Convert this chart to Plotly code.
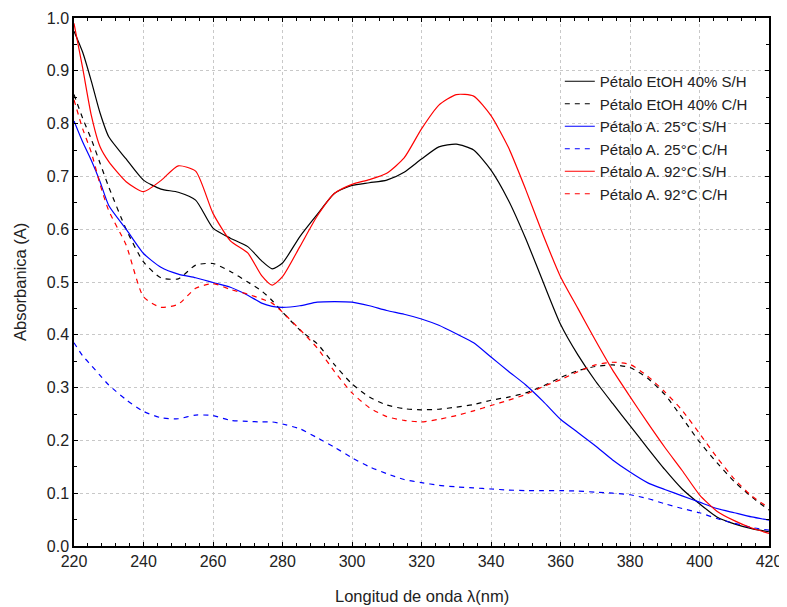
import plotly.graph_objects as go

wavelength = [220, 222.5, 225, 227.5, 230, 235, 240, 245, 250, 255, 260, 265, 270, 274, 277, 280,
              285, 290, 295, 300, 305, 310, 315, 320, 325, 330, 335, 340, 345, 350, 355, 360,
              365, 370, 375, 380, 385, 390, 395, 400, 405, 410, 415, 420]

etoh_sh = [0.975, 0.935, 0.88, 0.82, 0.775, 0.733, 0.693, 0.676, 0.670, 0.655, 0.602, 0.583, 0.567,
           0.54, 0.525, 0.536, 0.586, 0.628, 0.668, 0.683, 0.688, 0.693, 0.708, 0.733, 0.756, 0.761,
           0.750, 0.712, 0.655, 0.582, 0.50, 0.42, 0.362, 0.313, 0.270, 0.228, 0.186, 0.145, 0.108,
           0.08, 0.055, 0.042, 0.033, 0.027]

etoh_ch = [0.855, 0.81, 0.77, 0.725, 0.68, 0.60, 0.538, 0.508, 0.506, 0.532, 0.535, 0.52, 0.50,
           0.483, 0.465, 0.443, 0.409, 0.383, 0.343, 0.307, 0.282, 0.267, 0.26, 0.258, 0.259, 0.263,
           0.268, 0.276, 0.282, 0.29, 0.303, 0.319, 0.332, 0.34, 0.343, 0.338, 0.318, 0.287, 0.243,
           0.197, 0.158, 0.122, 0.093, 0.068]

a25_sh = [0.805, 0.765, 0.73, 0.69, 0.645, 0.60, 0.554, 0.528, 0.515, 0.508, 0.499, 0.49, 0.475,
          0.46, 0.454, 0.452, 0.455, 0.462, 0.463, 0.462, 0.455, 0.446, 0.439, 0.43, 0.418, 0.402,
          0.385, 0.358, 0.331, 0.305, 0.274, 0.24, 0.215, 0.19, 0.163, 0.14, 0.12, 0.107, 0.095,
          0.083, 0.071, 0.063, 0.055, 0.049]

a25_ch = [0.385, 0.36, 0.342, 0.323, 0.305, 0.277, 0.255, 0.243, 0.241, 0.248, 0.247, 0.238, 0.236,
          0.235, 0.235, 0.231, 0.222, 0.205, 0.187, 0.167, 0.15, 0.137, 0.126, 0.12, 0.115, 0.112,
          0.11, 0.108, 0.106, 0.105, 0.105, 0.105, 0.104, 0.102, 0.1, 0.097, 0.09, 0.08, 0.071,
          0.063, 0.052, 0.043, 0.035, 0.03]

a92_sh = [0.99, 0.905, 0.815, 0.756, 0.728, 0.69, 0.671, 0.692, 0.72, 0.71, 0.63, 0.578, 0.555,
          0.512, 0.494, 0.51, 0.567, 0.625, 0.668, 0.685, 0.694, 0.706, 0.735, 0.79, 0.835, 0.855,
          0.852, 0.815, 0.755, 0.675, 0.589, 0.51, 0.45, 0.39, 0.333, 0.283, 0.234, 0.187, 0.143,
          0.097, 0.066, 0.048, 0.034, 0.024]

a92_ch = [0.845, 0.79, 0.745, 0.685, 0.635, 0.57, 0.472, 0.452, 0.458, 0.488, 0.497, 0.486, 0.477,
          0.468, 0.46, 0.443, 0.41, 0.375, 0.33, 0.29, 0.262, 0.245, 0.238, 0.235, 0.24, 0.247,
          0.256, 0.266, 0.276, 0.287, 0.302, 0.315, 0.33, 0.343, 0.348, 0.344, 0.322, 0.292, 0.257,
          0.213, 0.168, 0.127, 0.095, 0.072]

series = [
    ("Pétalo EtOH 40% S/H", etoh_sh, "#000000", "solid"),
    ("Pétalo EtOH 40% C/H", etoh_ch, "#000000", "5px,5px"),
    ("Pétalo A. 25°C S/H", a25_sh, "#0000ff", "solid"),
    ("Pétalo A. 25°C C/H", a25_ch, "#0000ff", "5px,5px"),
    ("Pétalo A. 92°C S/H", a92_sh, "#ff0000", "solid"),
    ("Pétalo A. 92°C C/H", a92_ch, "#ff0000", "5px,5px"),
]

x_ticks = [220, 240, 260, 280, 300, 320, 340, 360, 380, 400, 420]
y_ticks = [0.0, 0.1, 0.2, 0.3, 0.4, 0.5, 0.6, 0.7, 0.8, 0.9, 1.0]
x_title = "Longitud de onda λ(nm)"
y_title = "Absorbanica (A)"

FONT = "Liberation Sans, Arial, sans-serif"
TEXT = "#222222"

fig = go.Figure()
for name, vals, color, dash in series:
    fig.add_trace(go.Scatter(
        x=wavelength, y=vals, name=name, mode="lines",
        line=dict(color=color, width=1.2, dash=dash, shape="spline", smoothing=0.6),
    ))

axis_common = dict(
    showline=True, linecolor="#000000", linewidth=1.5, mirror="ticks",
    ticks="inside", ticklen=4, tickcolor="#000000",
    showgrid=True, gridcolor="#c8c8c8", griddash="dot", gridwidth=1,
    zeroline=False, automargin=False,
    tickfont=dict(family=FONT, size=16, color=TEXT),
)

fig.update_xaxes(
    range=[220, 420], tickvals=x_ticks, ticktext=[str(v) for v in x_ticks],
    minor=dict(ticks="inside", ticklen=3, dtick=4, tickcolor="#000000", showgrid=False),
    **axis_common,
)
fig.update_yaxes(
    range=[0, 1.0], tickvals=y_ticks, ticktext=[f"{v:.1f}" for v in y_ticks],
    minor=dict(ticks="inside", ticklen=3, dtick=0.05, tickcolor="#000000", showgrid=False),
    **axis_common,
)

# the page body adds an 8px offset; the figure is sized so it ends at the window edge
fig.update_layout(
    width=779, height=599,
    margin=dict(l=66, r=18, t=10, b=61),
    paper_bgcolor="#ffffff", plot_bgcolor="#ffffff",
    showlegend=True,
    legend=dict(
        x=0.699, y=0.911, xanchor="left", yanchor="top",
        bgcolor="rgba(255,255,255,0)", borderwidth=0,
        font=dict(family=FONT, size=15, color=TEXT),
        tracegroupgap=0,
    ),
    annotations=[
        dict(text=x_title, xref="paper", yref="paper", x=0.5, y=0, xanchor="center",
             yanchor="middle", yshift=-50, showarrow=False,
             font=dict(family=FONT, size=16.5, color=TEXT)),
        dict(text=y_title, xref="paper", yref="paper", x=0, y=0.5, xanchor="center",
             yanchor="middle", xshift=-54, textangle=-90, showarrow=False,
             font=dict(family=FONT, size=16.5, color=TEXT)),
    ],
)

fig.write_html("out.html")
